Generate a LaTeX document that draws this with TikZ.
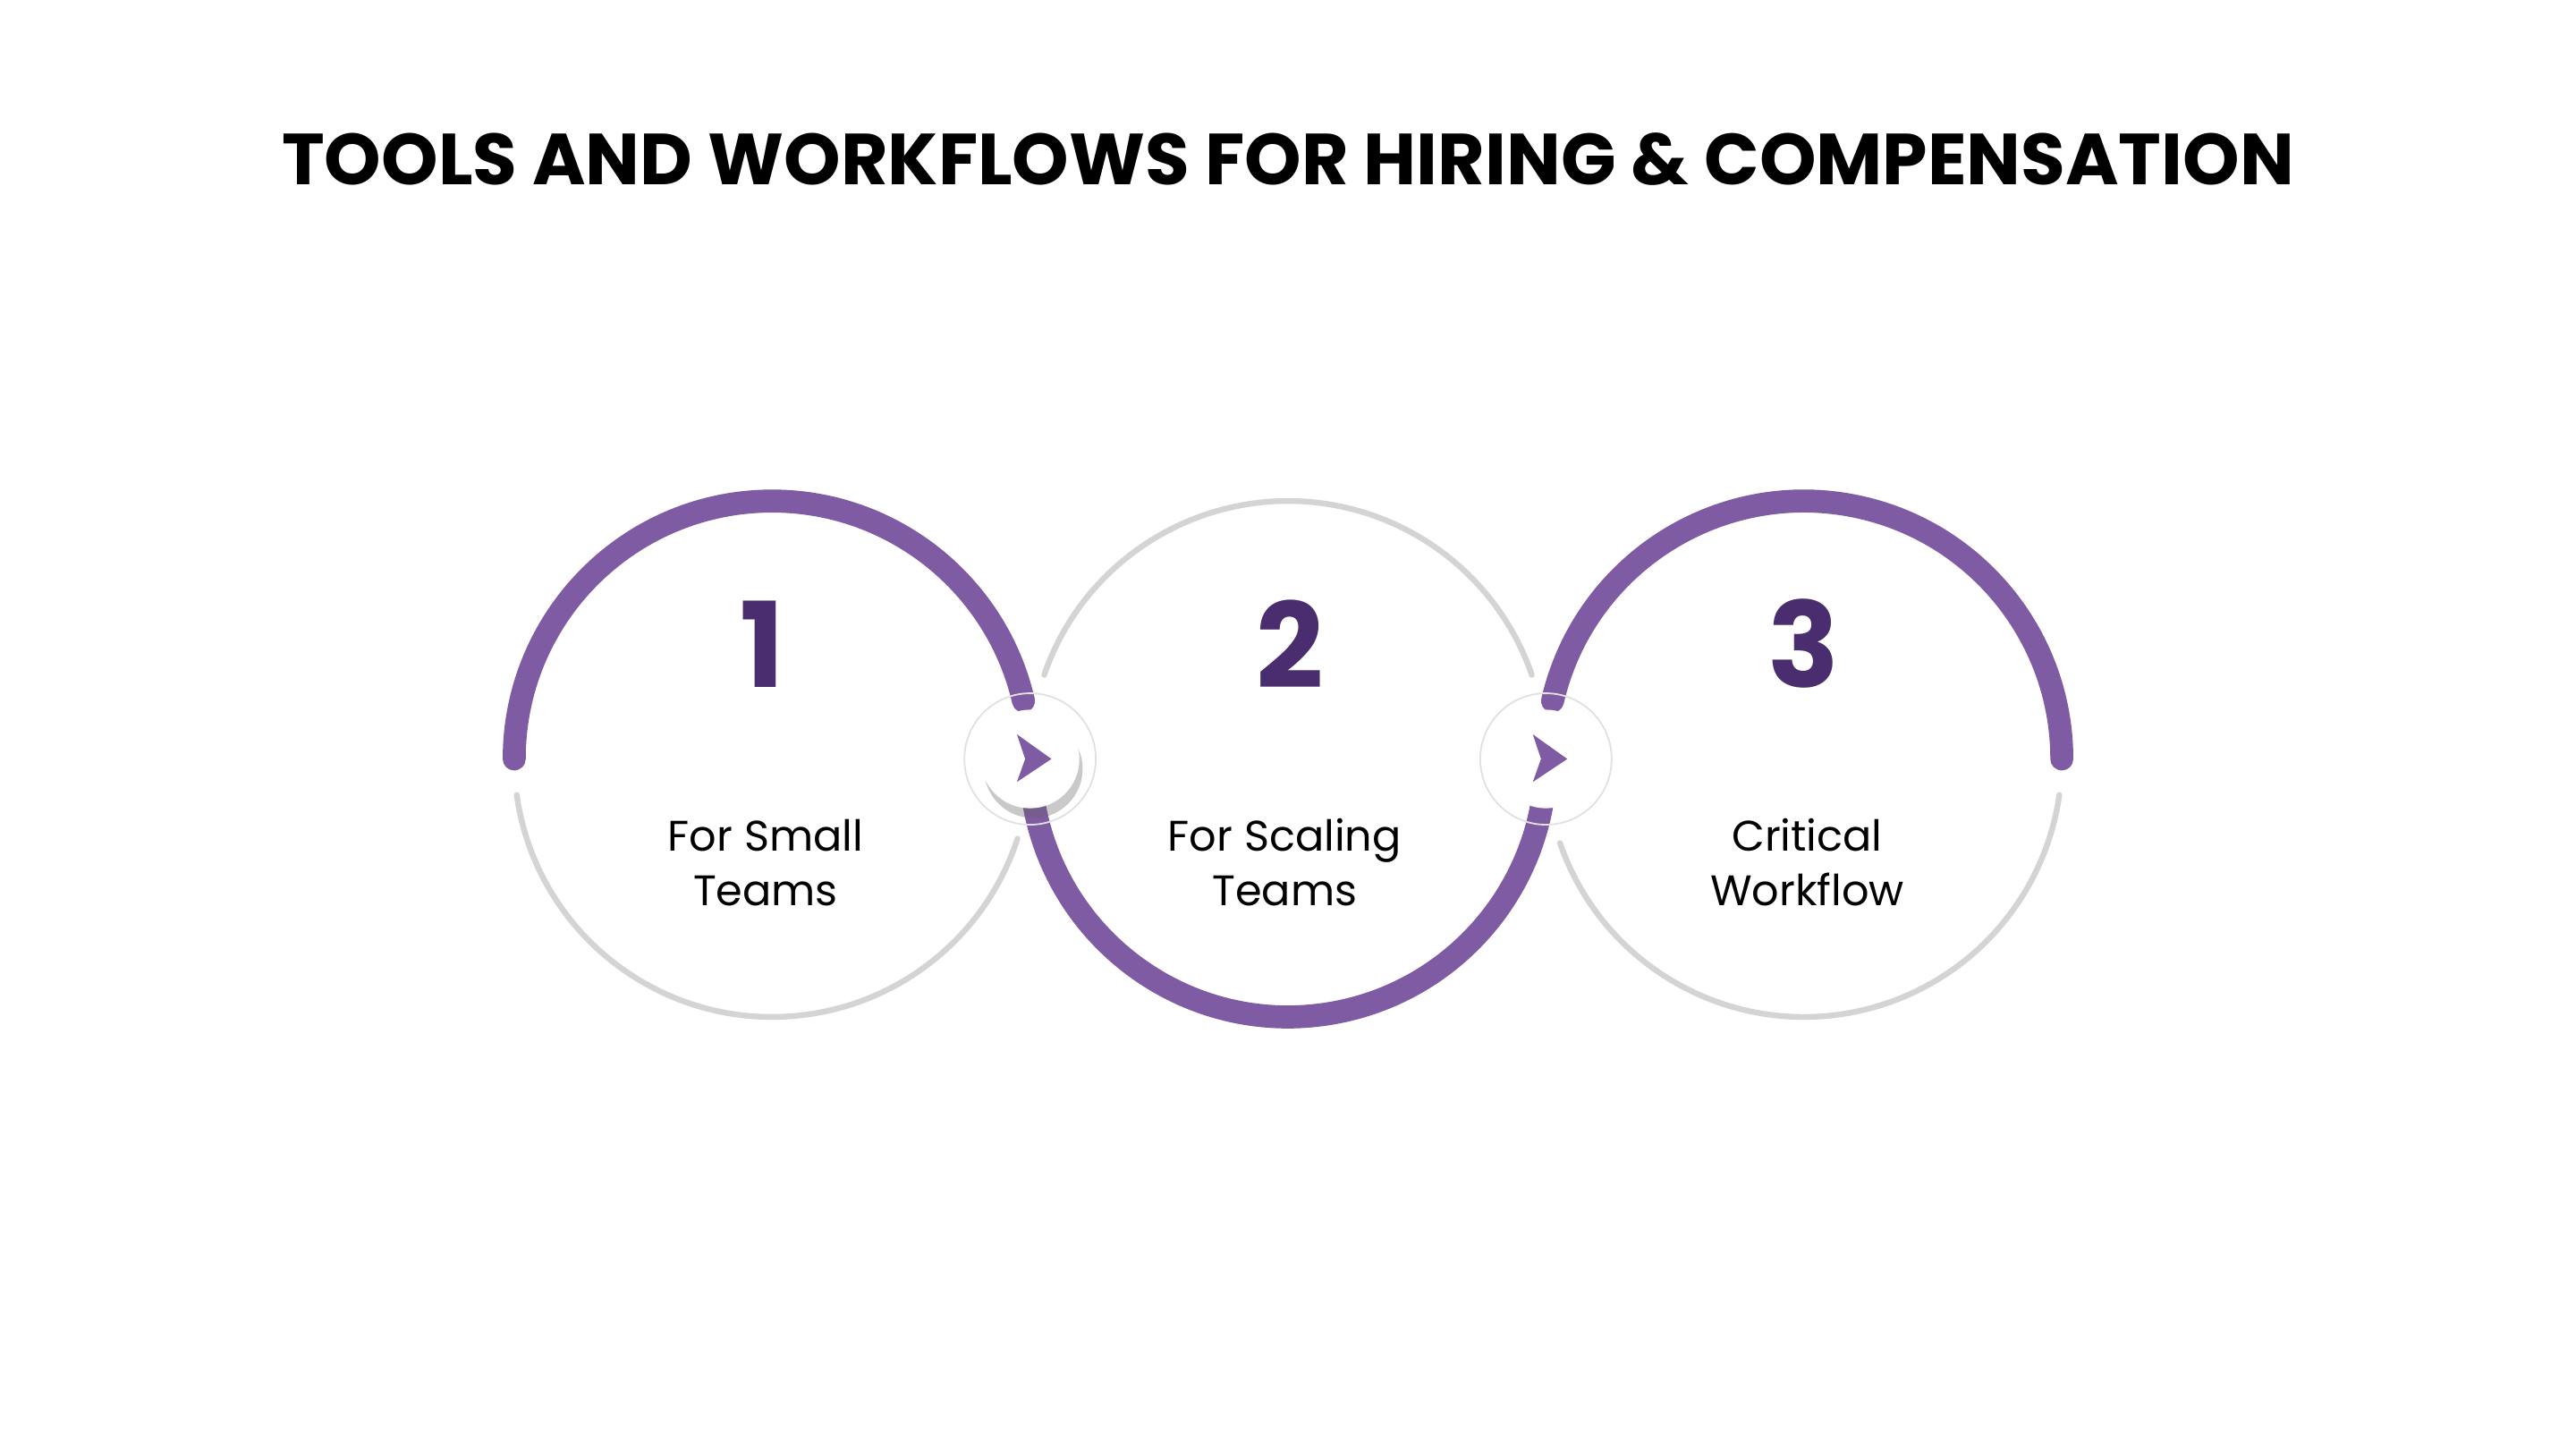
\documentclass[tikz,border=0pt]{standalone}
\usepackage{fontspec}
\setmainfont{Poppins}
\usetikzlibrary{shadows}
\definecolor{pur}{HTML}{7E5BA3}
\definecolor{dpur}{HTML}{4A2D6E}
\definecolor{lg}{HTML}{D4D4D4}
\begin{document}
\begin{tikzpicture}[x=1pt,y=1pt,
  thick arc/.style={draw=pur,line width=14pt,line cap=round},
  thin arc/.style={draw=lg,line width=3.5pt,line cap=round},
  num/.style={font=\fontsize{72}{72}\selectfont\bfseries,text=dpur},
  lbl/.style={font=\fontsize{26}{33}\selectfont,align=center},
  btn/.style={circle,fill=white,minimum size=60pt,inner sep=0pt},
  ring/.style={circle,draw=lg!70,line width=1pt,minimum size=80pt,inner sep=0pt}]
\useasboundingbox (0,0) rectangle (1568,882);
\fill[white] (0,0) rectangle (1568,882);
\node[font=\fontsize{44}{44}\selectfont\bfseries] (title) at (784,785) {TOOLS AND WORKFLOWS FOR HIRING \& COMPENSATION};
% circle 1
\coordinate (c1) at (470,420);
\draw[thick arc] ([shift={(180:157)}]c1) arc[start angle=180,end angle=13,radius=157];
\draw[thin arc] ([shift={(188:157)}]c1) arc[start angle=188,end angle=342,radius=157];
% circle 2
\coordinate (c2) at (784,420);
\draw[thin arc] ([shift={(161:157)}]c2) arc[start angle=161,end angle=19,radius=157];
\draw[thick arc] ([shift={(190:157)}]c2) arc[start angle=190,end angle=350,radius=157];
% circle 3
\coordinate (c3) at (1098,420);
\draw[thick arc] ([shift={(167:157)}]c3) arc[start angle=167,end angle=0,radius=157];
\draw[thin arc] ([shift={(199:157)}]c3) arc[start angle=199,end angle=352,radius=157];
% numbers and labels
\node[num] (n1) at (464,490) {1};
\node[num] (n2) at (785,490) {2};
\node[num] (n3) at (1098,490) {3};
\node[lbl] (l1) at (466,357) {For Small\\ Teams};
\node[lbl] (l2) at (782,357) {For Scaling\\ Teams};
\node[lbl] (l3) at (1100,357) {Critical\\ Workflow};
% buttons
\node[ring] (r1) at (627,420) {};
\node[btn,drop shadow={shadow xshift=2pt,shadow yshift=-6pt,opacity=0.35,fill=black!60}] (b1) at (627,420) {};
\node[ring] (r2) at (941,420) {};
\node[btn] (b2) at (941,420) {};
\fill[pur] ([shift={(-8,15)}]b1.center) -- ([shift={(13,0)}]b1.center) -- ([shift={(-8,-14)}]b1.center) -- ([shift={(-3,0)}]b1.center) -- cycle;
\fill[pur] ([shift={(-8,15)}]b2.center) -- ([shift={(13,0)}]b2.center) -- ([shift={(-8,-14)}]b2.center) -- ([shift={(-3,0)}]b2.center) -- cycle;
\end{tikzpicture}
\end{document}
